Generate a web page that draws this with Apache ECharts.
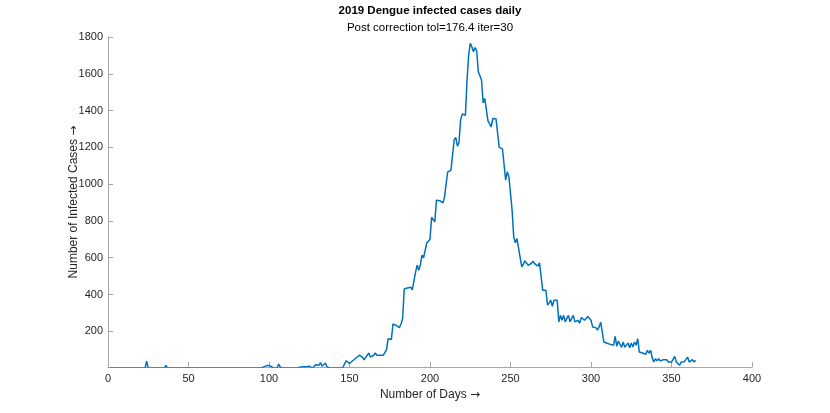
<!DOCTYPE html>
<html>
<head>
<meta charset="utf-8">
<script src="https://cdn.jsdelivr.net/npm/echarts@6/dist/echarts.min.js"></script>
<style>html,body{margin:0;padding:0;background:#fff}#c{width:830px;height:413px}</style>
</head>
<body>
<div id="c"></div>
<script>
const titleText = "2019 Dengue infected cases daily";
const subtitleText = "Post correction tol=176.4 iter=30";
const xAxisName = "Number of Days";
const yAxisName = "Number of Infected Cases";
const arrow = "\u2192";
const yTicks = [200, 400, 600, 800, 1000, 1200, 1400, 1600, 1800];

// daily cases, day 1 .. day 365
const cases = [
  // 1-30
  0,0,0,0,0,0,0,0,0,0, 0,0,0,0,0,0,0,0,0,0, 0,0,0,38,0,0,0,0,0,0,
  // 31-60
  0,0,0,0,0,15,0,0,0,0, 0,0,0,0,0,0,0,0,0,0, 0,0,0,0,0,0,0,0,0,0,
  // 61-90
  0,0,0,0,0,0,0,0,0,0, 0,0,0,0,0,0,0,0,0,0, 0,8,0,0,0,0,0,0,0,0,
  // 91-120
  0,8,0,0,0,0,8,0,15,22, 10,0,0,0,0,22,5,0,0,0, 0,0,0,0,0,0,0,10,5,12,
  // 121-150
  8,15,8,12,10,0,0,0,18,25, 15,30,10,5,28,8,0,0,0,0, 0,0,0,0,0,5,25,40,48,25,
  // 151-180
  30,40,35,55,60,70,80,60,45,55, 70,82,60,57,70,82,70,62,70,80, 70,62,100,160,150,155,240,235,232,225,
  // 181-210
  220,240,270,430,432,435,445,440,425,415, 520,560,532,560,614,600,590,680,690,700, 820,810,795,913,915,910,900,898,928,1000,
  // 211-240
  1067,1062,1075,1085,1240,1254,1207,1225,1348,1381, 1380,1375,1566,1700,1765,1747,1720,1743,1725,1611, 1606,1566,1442,1466,1466,1344,1334,1312,1357,1363,
  // 241-270
  1355,1348,1200,1194,1192,1190,1022,1067,1040,1040, 859,713,681,704,695,600,550,565,583,570, 559,559,570,581,568,560,554,572,500,423,
  // 271-300
  432,423,342,355,369,336,369,369,369,251, 287,260,287,251,270,287,251,270,287,251, 255,260,245,275,265,260,269,280,282,260,
  // 301-330
  224,222,220,206,224,250,256,142,137,135, 133,129,119,124,173,119,147,155,113,142, 113,119,137,111,137,115,142,124,160,88,
  // 331-365
  85,82,78,75,97,82,97,57,33,51, 39,51,39,42,46,44,46,33,42,33, 40,64,33,39,15,33,28,35,42,60, 33,40,46,33,42
];

const seriesData = cases.map((v, i) => [i + 1, v]);

const axisGray = '#a6a6a6';
const labelColor = '#262626';
const fontFam = 'Liberation Sans, Arial, Helvetica, sans-serif';
const arrowFam = 'DejaVu Sans';

const nameRich = {
  t: {color: labelColor, fontSize: 12, fontFamily: fontFam},
  a: {color: labelColor, fontSize: 12, fontFamily: arrowFam}
};

const chart = echarts.init(document.getElementById('c'), null, {renderer: 'canvas'});
chart.setOption({
  animation: false,
  backgroundColor: '#ffffff',
  grid: {left: 108, top: 37, width: 644, height: 330, containLabel: false},
  graphic: [
    {type: 'text', x: 430, y: 5, style: {text: titleText, textAlign: 'center', fill: '#000', font: 'bold 11.5px ' + fontFam}},
    {type: 'text', x: 430, y: 22, style: {text: subtitleText, textAlign: 'center', fill: '#000', font: '11.5px ' + fontFam}}
  ],
  xAxis: {
    type: 'value', min: 0, max: 400, interval: 50,
    name: '{t|' + xAxisName + ' }{a|' + arrow + '}', nameLocation: 'middle', nameGap: 22,
    nameMoveOverlap: false,
    nameTextStyle: {rich: nameRich},
    axisLine: {show: true, lineStyle: {color: axisGray, width: 1}},
    axisTick: {show: true, inside: true, length: 5, lineStyle: {color: axisGray}},
    axisLabel: {color: labelColor, fontSize: 11, fontFamily: fontFam, margin: 6},
    splitLine: {show: false}
  },
  yAxis: {
    type: 'value', min: 6, max: 1800,
    name: '{t|' + yAxisName + ' }{a|' + arrow + '}', nameLocation: 'middle', nameGap: 28, nameRotate: 90,
    nameMoveOverlap: false,
    nameTextStyle: {rich: nameRich},
    axisLine: {show: true, lineStyle: {color: axisGray, width: 1}},
    axisTick: {show: true, inside: true, length: 5, lineStyle: {color: axisGray}, customValues: yTicks},
    axisLabel: {color: labelColor, fontSize: 11, fontFamily: fontFam, margin: 5, customValues: yTicks,
      formatter: v => String(v)},
    splitLine: {show: false}
  },
  series: [{
    type: 'line', data: seriesData, showSymbol: false, symbol: 'none', clip: true,
    lineStyle: {color: '#0072BD', width: 1.5}
  }]
});
</script>
</body>
</html>
